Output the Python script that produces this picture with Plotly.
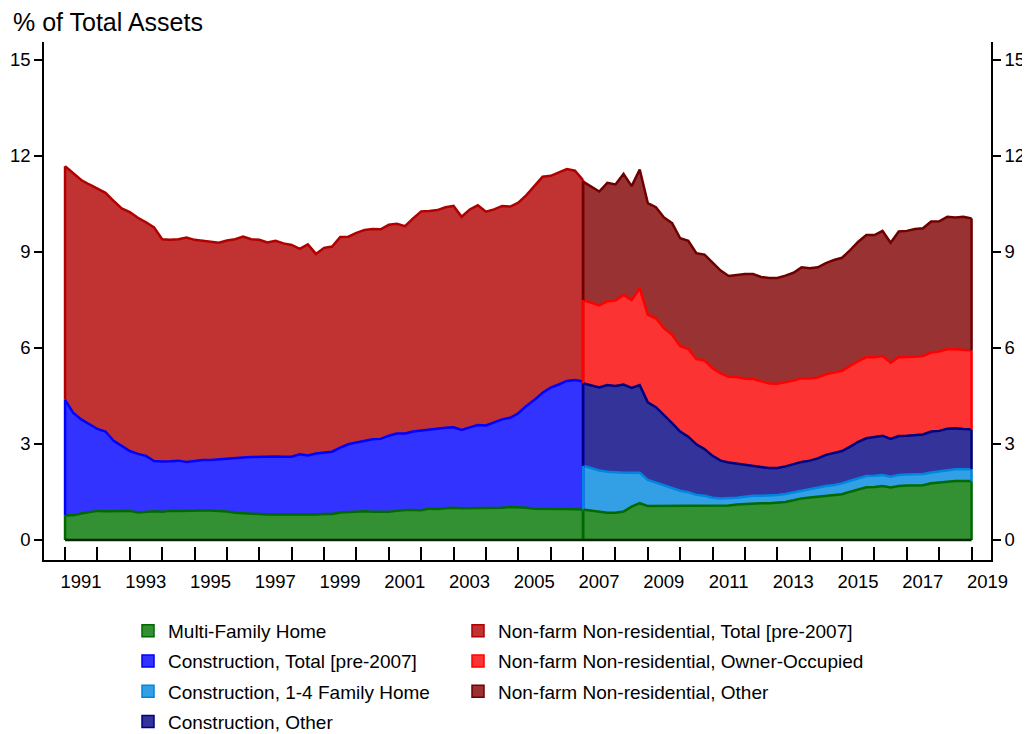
import numpy as np
import plotly.graph_objects as go

# quarterly shares, % of total assets, starting 1991Q1
start_year = 1991
break_idx = 64  # 2007Q1: series definitions change here

multi_family = [
    0.77, 0.77, 0.83, 0.86, 0.91, 0.90, 0.90, 0.90, 0.91, 0.86,
    0.88, 0.90, 0.88, 0.91, 0.91, 0.92, 0.92, 0.92, 0.92, 0.91,
    0.89, 0.85, 0.83, 0.81, 0.81, 0.80, 0.80, 0.79, 0.78, 0.79,
    0.80, 0.80, 0.81, 0.81, 0.86, 0.88, 0.90, 0.90, 0.88, 0.88,
    0.88, 0.91, 0.94, 0.94, 0.93, 0.98, 0.97, 0.99, 1.01, 0.99,
    0.99, 0.99, 0.99, 1.00, 1.01, 1.03, 1.03, 1.01, 0.98, 0.97,
    0.96, 0.97, 0.97, 0.96, 0.95, 0.92, 0.88, 0.85, 0.85, 0.89,
    1.04, 1.15, 1.06, 1.06, 1.08, 1.07, 1.06, 1.06, 1.06, 1.06,
    1.06, 1.06, 1.08, 1.11, 1.13, 1.14, 1.15, 1.15, 1.17, 1.19,
    1.24, 1.30, 1.33, 1.35, 1.39, 1.41, 1.43, 1.51, 1.59, 1.65,
    1.66, 1.69, 1.64, 1.69, 1.70, 1.71, 1.71, 1.77, 1.79, 1.83,
    1.84, 1.84, 1.84,
]

# pre-2007 (1991Q1 - 2007Q1)
construction_total = [
    3.61, 3.21, 2.94, 2.75, 2.56, 2.49, 2.20, 2.04, 1.87, 1.83,
    1.75, 1.57, 1.57, 1.55, 1.57, 1.52, 1.56, 1.58, 1.58, 1.61,
    1.65, 1.73, 1.75, 1.78, 1.79, 1.81, 1.81, 1.81, 1.82, 1.89,
    1.84, 1.90, 1.91, 1.95, 2.03, 2.11, 2.15, 2.20, 2.27, 2.28,
    2.38, 2.42, 2.39, 2.45, 2.49, 2.48, 2.51, 2.52, 2.51, 2.45,
    2.53, 2.60, 2.59, 2.67, 2.76, 2.79, 2.93, 3.18, 3.40, 3.63,
    3.80, 3.89, 4.00, 4.04, 4.00,
]
nonfarm_total = [
    7.30, 7.48, 7.48, 7.50, 7.51, 7.46, 7.50, 7.42, 7.47, 7.38,
    7.30, 7.30, 6.95, 6.92, 6.92, 7.01, 6.90, 6.86, 6.82, 6.77,
    6.82, 6.82, 6.90, 6.81, 6.78, 6.69, 6.74, 6.67, 6.62, 6.42,
    6.60, 6.24, 6.41, 6.41, 6.58, 6.49, 6.55, 6.59, 6.57, 6.55,
    6.59, 6.55, 6.48, 6.66, 6.85, 6.82, 6.83, 6.89, 6.92, 6.66,
    6.81, 6.87, 6.68, 6.66, 6.67, 6.60, 6.58, 6.59, 6.70, 6.75,
    6.62, 6.62, 6.62, 6.54, 6.30,
]

# post-2007 (2007Q1 - 2019Q1)
construction_14 = [
    1.37, 1.32, 1.29, 1.28, 1.26, 1.21, 1.06, 0.95, 0.82, 0.74,
    0.64, 0.57, 0.48, 0.43, 0.35, 0.32, 0.26, 0.24, 0.22, 0.21,
    0.22, 0.24, 0.23, 0.24, 0.24, 0.25, 0.25, 0.26, 0.27, 0.30,
    0.30, 0.31, 0.34, 0.34, 0.34, 0.35, 0.35, 0.34, 0.34, 0.34,
    0.35, 0.35, 0.35, 0.34, 0.35, 0.36, 0.37, 0.37, 0.37,
]
construction_other = [
    2.58, 2.59, 2.60, 2.71, 2.70, 2.76, 2.65, 2.74, 2.42, 2.35,
    2.19, 2.01, 1.85, 1.74, 1.58, 1.46, 1.31, 1.18, 1.12, 1.06,
    0.99, 0.94, 0.90, 0.86, 0.84, 0.86, 0.88, 0.88, 0.88, 0.90,
    0.97, 0.99, 1.01, 1.07, 1.14, 1.18, 1.20, 1.23, 1.18, 1.22,
    1.21, 1.22, 1.24, 1.28, 1.27, 1.29, 1.28, 1.26, 1.25,
]
nonfarm_owner = [
    2.60, 2.59, 2.56, 2.62, 2.67, 2.80, 2.75, 3.02, 2.74, 2.78,
    2.70, 2.76, 2.67, 2.74, 2.66, 2.77, 2.74, 2.73, 2.68, 2.71,
    2.70, 2.71, 2.68, 2.64, 2.63, 2.62, 2.61, 2.61, 2.57, 2.53,
    2.52, 2.52, 2.51, 2.52, 2.52, 2.53, 2.50, 2.49, 2.38, 2.46,
    2.45, 2.45, 2.45, 2.47, 2.48, 2.48, 2.47, 2.47, 2.46,
]
nonfarm_other = [
    3.70, 3.62, 3.56, 3.70, 3.63, 3.78, 3.56, 3.72, 3.49, 3.47,
    3.47, 3.49, 3.37, 3.38, 3.31, 3.31, 3.29, 3.21, 3.15, 3.20,
    3.27, 3.28, 3.26, 3.30, 3.31, 3.34, 3.37, 3.47, 3.44, 3.44,
    3.47, 3.52, 3.53, 3.62, 3.73, 3.82, 3.82, 3.91, 3.75, 3.93,
    3.95, 3.99, 3.99, 4.09, 4.07, 4.14, 4.12, 4.16, 4.13,
]

x = start_year + np.arange(len(multi_family)) / 4
x_pre = x[:break_idx + 1]
x_post = x[break_idx:]

# name, fill, line
styles = {
    "mf": ("Multi-Family Home", "#339133", "#006a00"),
    "ct": ("Construction, Total [pre-2007]", "#3333ff", "#0000ff"),
    "c14": ("Construction, 1-4 Family Home", "#33a0e5", "#0085e0"),
    "co": ("Construction, Other", "#333399", "#000080"),
    "nt": ("Non-farm Non-residential, Total [pre-2007]", "#c13333", "#b00000"),
    "no": ("Non-farm Non-residential, Owner-Occupied", "#fc3333", "#ff0000"),
    "nx": ("Non-farm Non-residential, Other", "#993333", "#700000"),
}

groups = {
    "pre": (x_pre, [("mf", multi_family[:break_idx + 1]),
                    ("ct", construction_total),
                    ("nt", nonfarm_total)]),
    "post": (x_post, [("mf", multi_family[break_idx:]),
                      ("c14", construction_14),
                      ("co", construction_other),
                      ("no", nonfarm_owner),
                      ("nx", nonfarm_other)]),
}

FONT = "Liberation Sans, Arial, sans-serif"
fig = go.Figure()

for gname, (gx, series) in groups.items():
    for key, vals in series:
        name, fill, line = styles[key]
        fig.add_trace(go.Scatter(
            x=gx, y=vals, stackgroup=gname, mode="lines",
            line=dict(color=line, width=2.5), fillcolor=fill,
            name=name, showlegend=False, hoverinfo="x+y+name"))

# outline the side edges of every band, like the original area plot
for gname, (gx, series) in groups.items():
    cum = np.cumsum(np.array([v for _, v in series], dtype=float), axis=0)
    for k, (key, _) in enumerate(series):
        lo = cum[k - 1] if k > 0 else np.zeros(len(gx))
        ex, ey = [], []
        for j in (0, -1):
            ex += [gx[j], gx[j], None]
            ey += [lo[j], cum[k][j], None]
        fig.add_trace(go.Scatter(x=ex, y=ey, mode="lines",
                                 line=dict(color=styles[key][2], width=2.5),
                                 showlegend=False, hoverinfo="skip"))

fig.add_trace(go.Scatter(x=[x[0], x[-1]], y=[0, 0], mode="lines",
                         line=dict(color="#0a250a", width=2.5),
                         showlegend=False, hoverinfo="skip"))

# legend entries (two columns)
col1 = ["mf", "ct", "c14", "co"]
col2 = ["nt", "no", "nx"]
for keys, leg, yax in ((col1, "legend", "y"), (col2, "legend2", "y2")):
    for key in keys:
        name, fill, line = styles[key]
        fig.add_trace(go.Scatter(
            x=[None], y=[None], mode="markers", name=name, legend=leg, yaxis=yax,
            legendgroup=key,
            marker=dict(symbol="square", size=12, color=fill,
                        line=dict(color=line, width=1.5))))

years = list(range(1991, 2020))
yticks = [0, 3, 6, 9, 12, 15]
yrange = [-0.625, 15.5625]

# page has an 8px body margin, so the figure is 8px smaller than the window
W, H = 1022, 726
leg_y = (560 - 612) / 518

fig.update_layout(
    width=W, height=H, autosize=False,
    margin=dict(l=36, r=39, t=34, b=174, autoexpand=False),
    paper_bgcolor="white", plot_bgcolor="white",
    font=dict(family=FONT, size=18.5, color="black"),
    title=dict(text="% of Total Assets", x=5 / W, xref="container", xanchor="left",
               y=1 - 14 / H, yref="container", yanchor="middle",
               font=dict(family=FONT, size=25, color="black")),
    xaxis=dict(range=[1990.35, 2019.6], tickvals=years,
               ticktext=[str(y) if y % 2 else "" for y in years],
               ticks="inside", ticklen=13, tickwidth=1.5, tickcolor="black",
               ticklabelshift=16, ticklabelstandoff=4,
               showline=True, linewidth=1.5, linecolor="black",
               showgrid=False, zeroline=False),
    yaxis=dict(range=yrange, tickvals=yticks, ticks="outside", ticklen=8,
               tickwidth=1.5, tickcolor="black", showline=True, linewidth=1.5,
               linecolor="black", showgrid=False, zeroline=False),
    yaxis2=dict(range=yrange, tickvals=yticks, ticks="outside", ticklen=8,
                tickwidth=1.5, tickcolor="black", showline=True, linewidth=1.5,
                linecolor="black", showgrid=False, zeroline=False,
                overlaying="y", side="right", anchor="x"),
    legend=dict(x=(128 - 44) / 947, y=leg_y, xanchor="left", yanchor="top",
                orientation="v", traceorder="grouped", tracegroupgap=2.5,
                font=dict(family=FONT, size=19), bgcolor="rgba(0,0,0,0)"),
    legend2=dict(x=(458 - 44) / 947, y=leg_y, xanchor="left", yanchor="top",
                 orientation="v", traceorder="grouped", tracegroupgap=2.5,
                 font=dict(family=FONT, size=19), bgcolor="rgba(0,0,0,0)"),
)

fig.write_html("out.html")
